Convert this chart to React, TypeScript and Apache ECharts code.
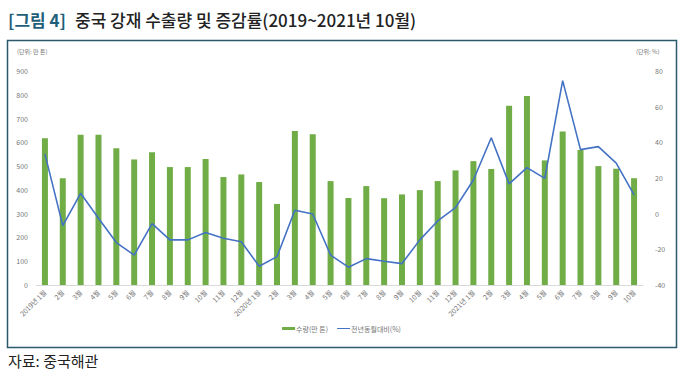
import React, { useEffect, useRef } from "react";
import * as echarts from "echarts";

const categories = [
  "2019년 1월", "2월", "3월", "4월", "5월", "6월", "7월", "8월", "9월", "10월", "11월", "12월",
  "2020년 1월", "2월", "3월", "4월", "5월", "6월", "7월", "8월", "9월", "10월", "11월", "12월",
  "2021년 1월", "2월", "3월", "4월", "5월", "6월", "7월", "8월", "9월", "10월",
];

const volume = [
  617, 449, 632, 632, 575, 528, 558, 496, 496, 530, 454, 465,
  433, 341, 648, 634, 437, 366, 416, 365, 381, 399, 437, 482,
  521, 488, 754, 795, 524, 646, 568, 500, 489, 449,
];

const yoy = [
  33.5, -6.7, 11.4, -2.6, -16.2, -23.2, -5.6, -14.7, -14.7, -10.6, -13.8, -15.7,
  -29.5, -24.1, 1.9, -0.2, -23.2, -30.0, -25.2, -26.7, -28.0, -14.7, -4.1, 3.4,
  18.9, 42.6, 16.7, 25.8, 19.8, 74.6, 35.9, 37.6, 28.3, 10.5,
];

const leftTicks = [0, 100, 200, 300, 400, 500, 600, 700, 800, 900];
const rightTicks = [-40, -20, 0, 20, 40, 60, 80];

const seriesNames = ["수량(만 톤)", "전년동월대비(%)"];

export default function App() {
  const ref = useRef<HTMLDivElement>(null);
  useEffect(() => {
    if (!ref.current) return;
    const chart = echarts.init(ref.current, undefined, { renderer: "svg" });
    const font = "'Noto Sans CJK KR', 'Noto Sans', sans-serif";
    chart.setOption({
      animation: false,
      textStyle: { fontFamily: font },
      graphic: [
        {
          type: "rect",
          shape: { x: 7.5, y: 40.5, width: 669, height: 307 },
          style: { fill: "none", stroke: "#2b5a6b", lineWidth: 1.5 },
          z: 0,
        },
        {
          type: "text",
          x: 8,
          y: 11,
          style: {
            text: "[그림 4]",
            fill: "#1f5f7a",
            font: `bold 17px ${font}`,
          },
        },
        {
          type: "text",
          x: 75,
          y: 11,
          style: {
            text: "중국 강재 수출량 및 증감률(2019~2021년 10월)",
            fill: "#222222",
            font: `500 17px ${font}`,
          },
        },
        {
          type: "text",
          x: 8,
          y: 353,
          style: {
            text: "자료: 중국해관",
            fill: "#222222",
            font: `15px ${font}`,
          },
        },
        {
          type: "text",
          x: 17,
          y: 48,
          style: { text: "(단위: 만 톤)", fill: "#777", font: `6px ${font}` },
        },
        {
          type: "text",
          x: 636,
          y: 48,
          style: { text: "(단위: %)", fill: "#777", font: `6px ${font}` },
        },
      ],
      legend: {
        data: [
          { name: seriesNames[0], icon: "rect" },
          { name: seriesNames[1], icon: "path://M0,0L40,0L40,3L0,3Z" },
        ],
        bottom: 46,
        left: "center",
        itemWidth: 13,
        itemHeight: 3,
        itemGap: 9,
        textStyle: { fontSize: 7, color: "#777", padding: [0, 0, 0, -4] },
      },
      grid: { left: 36, right: 40, top: 71, bottom: 98, containLabel: false },
      xAxis: {
        type: "category",
        data: categories,
        boundaryGap: true,
        axisLine: { lineStyle: { color: "#d9d9d9" } },
        axisTick: { show: false },
        axisLabel: {
          rotate: 45,
          fontSize: 7,
          color: "#777",
          interval: 0,
          margin: 6,
        },
      },
      yAxis: [
        {
          type: "value",
          min: leftTicks[0],
          max: leftTicks[leftTicks.length - 1],
          interval: 100,
          splitLine: { show: false },
          axisLine: { show: false },
          axisTick: { show: false },
          axisLabel: { fontSize: 7, color: "#777", margin: 8 },
        },
        {
          type: "value",
          min: rightTicks[0],
          max: rightTicks[rightTicks.length - 1],
          interval: 20,
          splitLine: { show: false },
          axisLine: { show: false },
          axisTick: { show: false },
          axisLabel: { fontSize: 7, color: "#777", margin: 12 },
        },
      ],
      series: [
        {
          name: seriesNames[0],
          type: "bar",
          data: volume,
          barWidth: 6,
          itemStyle: { color: "#70ad47" },
          yAxisIndex: 0,
        },
        {
          name: seriesNames[1],
          type: "line",
          data: yoy,
          yAxisIndex: 1,
          symbol: "none",
          lineStyle: { color: "#4472c4", width: 1.6 },
          itemStyle: { color: "#4472c4" },
        },
      ],
    });
    return () => chart.dispose();
  }, []);
  return (
    <div
      ref={ref}
      style={{ position: "fixed", left: 0, top: 0, width: 683, height: 383, background: "#fff" }}
    />
  );
}
